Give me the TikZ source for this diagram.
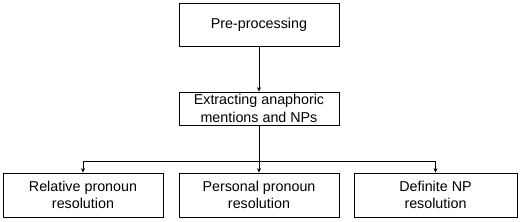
\documentclass[tikz,border=0pt]{standalone}
\usepackage{fontspec}
\setmainfont{Liberation Sans}
\usetikzlibrary{arrows.meta}
\tikzset{stagebox/.style={draw, line width=0.8pt, align=center, inner sep=0.5pt,
  minimum width=160pt, font=\fontsize{14.3}{17.5}\selectfont},
  flow/.style={line width=0.8pt, -{Stealth[length=4.5pt, width=4pt]}}}

\begin{document}
\begin{tikzpicture}[x=1pt, y=-1pt]
\useasboundingbox (0,0) rectangle (520,222);
% pipeline stages
\node[stagebox, minimum height=43pt] (pre) at (259,24.5) {Pre-processing};
\node[stagebox, minimum height=33pt] (ext) at (259,108.5) {Extracting anaphoric\\mentions and NPs};
% three resolvers in the bottom row
\node[stagebox, minimum height=44pt] (rel) at (83,195) {Relative pronoun\\resolution};
\node[stagebox, minimum height=44pt] (pers) at (259,195) {Personal pronoun\\resolution};
\node[stagebox, minimum height=44pt, minimum width=163pt] (defnp) at (435.5,195) {Definite NP\\resolution};
% connectors
\coordinate (split) at (259,161);
\draw[flow] (pre) -- (ext);
\draw[line width=0.8pt] (ext) -- (split);
\draw[flow] (split) -| (rel);
\draw[flow] (split) -- (pers);
\draw[flow] (split) -| (defnp);
\end{tikzpicture}
\end{document}
